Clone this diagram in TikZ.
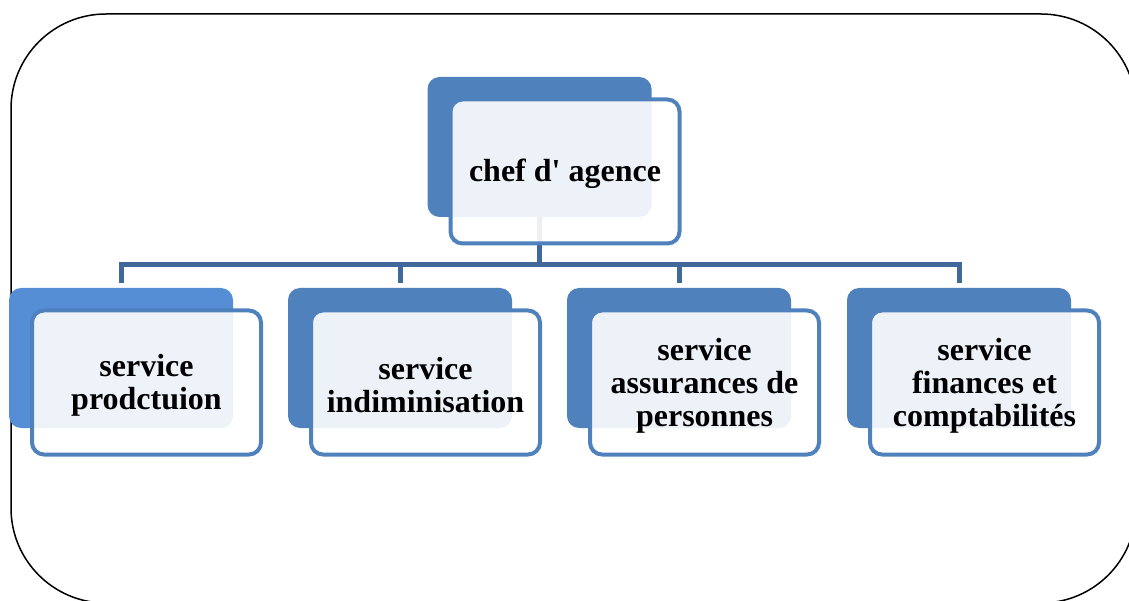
\documentclass[tikz,border=0pt]{standalone}
\usepackage{fontspec}
\setmainfont{Liberation Serif}
\definecolor{accent}{HTML}{4F81BD}
\definecolor{accentlight}{HTML}{558ED5}
\definecolor{conncol}{HTML}{40689A}
\begin{document}
\begin{tikzpicture}[x=1pt,y=-1pt,
  backbox/.style={rectangle, rounded corners=12pt, fill=accent, minimum width=224pt, minimum height=140pt, inner sep=0pt},
  frontbox/.style={rectangle, rounded corners=12pt, draw=accent, line width=4pt, fill=white, fill opacity=0.9, minimum width=229pt, minimum height=144pt, inner sep=0pt},
  labeltext/.style={align=center, inner sep=0pt, font=\bfseries\fontsize{32}{33}\selectfont},
  conn/.style={draw=conncol, line width=5pt},
  frame/.style={draw=black, line width=1.5pt, rounded corners=95pt}]
\useasboundingbox (0,0) rectangle (1129,601);
\clip (0,0) rectangle (1129,601);
\draw[frame] (11,14) rectangle (1136,603);
% back boxes
\node[backbox] (tb) at (539.5,147) {};
\node[backbox, fill=accentlight] (b1) at (121,358) {};
\node[backbox] (b2) at (400,358) {};
\node[backbox] (b3) at (679,358) {};
\node[backbox] (b4) at (959,358) {};
% connectors
\coordinate (bar) at (0,265);
\draw[conn] (tb.south) -- (tb.south |- bar);
\draw[conn] ([yshift=5pt]b1.north) -- (b1.north |- bar) -- (b4.north |- bar) -- ([yshift=5pt]b4.north);
\draw[conn] ([yshift=5pt]b2.north) -- (b2.north |- bar);
\draw[conn] ([yshift=5pt]b3.north) -- (b3.north |- bar);
% front boxes
\node[frontbox] (tf) at (565,171.5) {};
\node[frontbox] (f1) at (146.5,382.5) {};
\node[frontbox] (f2) at (425.5,382.5) {};
\node[frontbox] (f3) at (704.5,382.5) {};
\node[frontbox] (f4) at (984.5,382.5) {};
% texts
\node[labeltext] (t0) at ([yshift=-2.5pt]tf.center) {chef d\textquotesingle{} agence};
\node[labeltext] (t1) at ([yshift=-3pt]f1.center) {service\\prodctuion};
\node[labeltext] (t2) at ([yshift=-3pt]f2.center) {service\\indiminisation};
\node[labeltext] (t3) at ([yshift=-3pt]f3.center) {service\\assurances de\\personnes};
\node[labeltext] (t4) at ([yshift=-3pt]f4.center) {service\\finances et\\comptabilités};
\end{tikzpicture}
\end{document}
